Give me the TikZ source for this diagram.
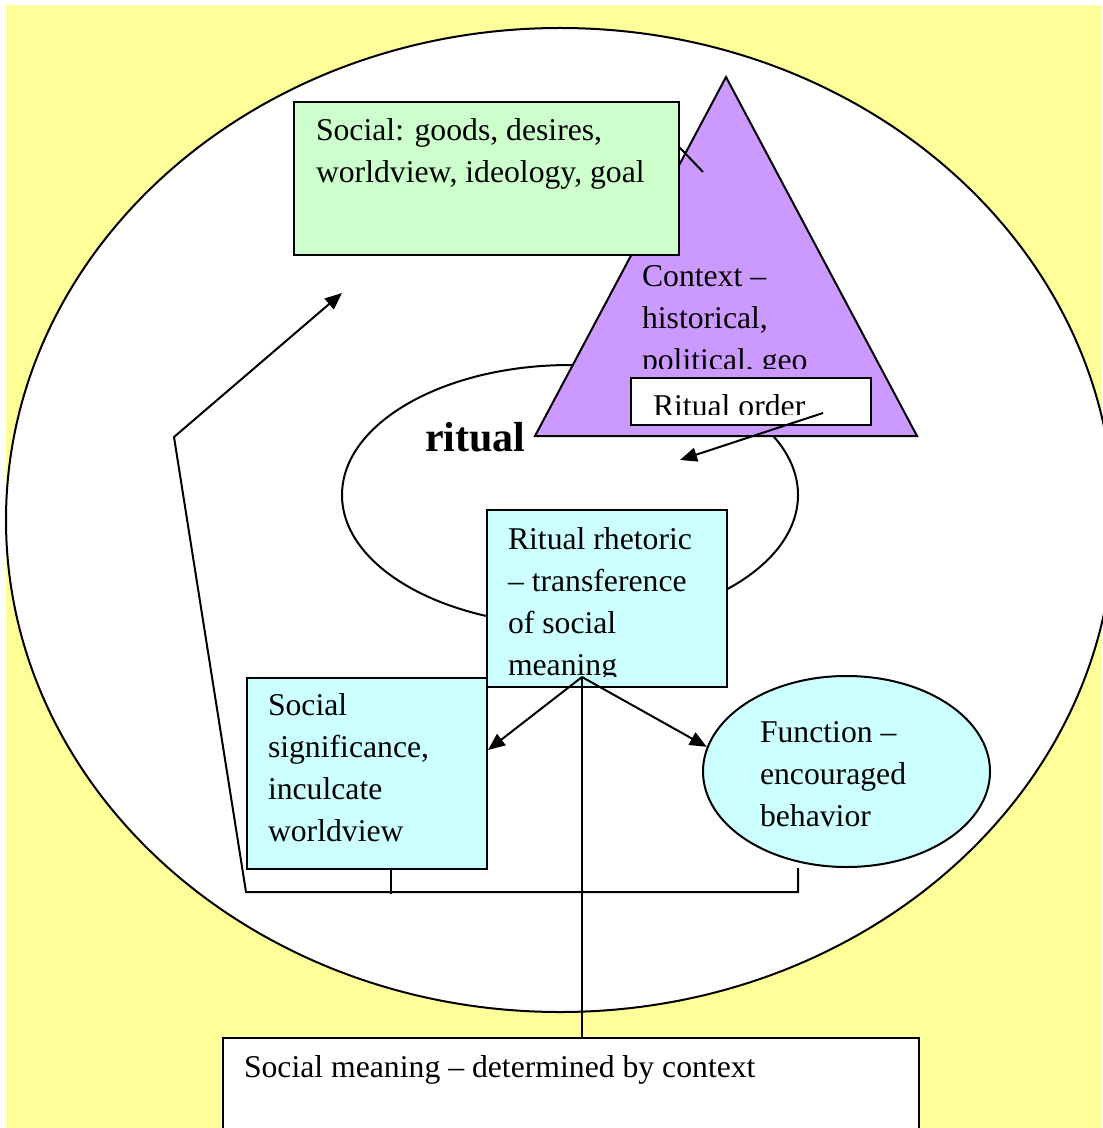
\documentclass[tikz,border=0pt]{standalone}
\usepackage{fontspec}
\setmainfont{Liberation Serif}
\usetikzlibrary{arrows.meta,shapes.geometric}
\definecolor{bgyellow}{HTML}{FFFF99}
\definecolor{boxgreen}{HTML}{CCFFCC}
\definecolor{boxcyan}{HTML}{CCFFFF}
\definecolor{ctxpurple}{HTML}{CC99FF}
\newcommand\bodyfont{\fontsize{15.85}{21}\selectfont}
\begin{document}
\begin{tikzpicture}[x=0.5pt, y=-0.5pt, line width=1pt,
		txt/.style={anchor=base west, inner sep=0pt, align=left, font=\bodyfont},
		box/.style={draw=black, anchor=north west, inner sep=0pt},
		arr/.style={-{Triangle[length=8.5pt,width=7pt]}}]
		\useasboundingbox (0,0) rectangle (1102,1128);
		\fill[white] (0,0) rectangle (1102,1128);
		\fill[bgyellow] (6,5) rectangle (1102,1128);
		% outer world and the ritual ellipse
		\filldraw[fill=white] (560,520) ellipse (554 and 492);
		\filldraw[fill=white] (570,495) ellipse (228 and 130);
		\node[txt, font=\fontsize{21}{25}\selectfont\bfseries] (ritual) at (424,451) {ritual};
		% context triangle (text anchored at its last line)
		\filldraw[fill=ctxpurple] (726,77) -- (535,436) -- (917,436) -- cycle;
		\begin{scope}
			\clip (600,250) rectangle (900,368.5);
			\node[txt] (context) at (641,371) {Context –\\historical,\\political, geo};
		\end{scope}
		\draw (660,127) -- (703,172);
		% boxes
		\node[box, fill=boxgreen, minimum width=192.5pt, minimum height=76.5pt] (goals) at (293,101) {};
		\node[txt] (goalstxt) at (315,183) {Social: goods, desires,\\worldview, ideology, goal};
		\node[box, fill=white, minimum width=120pt, minimum height=23.5pt] (order) at (630,377) {};
		\begin{scope}
			\clip (630,377) rectangle (870,414.5);
			\node[txt] (ordertxt) at (652,416) {Ritual order};
		\end{scope}
		\node[box, fill=boxcyan, minimum width=120pt, minimum height=88.5pt] (rhetoric) at (486,509) {};
		\begin{scope}
			\clip (486,509) rectangle (726,676);
			\node[txt] (rhetorictxt) at (507,675) {Ritual rhetoric\\– transference\\of social\\meaning};
		\end{scope}
		\node[box, fill=boxcyan, minimum width=120pt, minimum height=95.5pt] (sig) at (246,677) {};
		\node[txt] (sigtxt) at (267,841) {Social\\significance,\\inculcate\\worldview};
		\node[ellipse, draw=black, fill=boxcyan, inner sep=0pt, minimum width=143.5pt, minimum height=95.5pt] (func) at (846.5,771.5) {};
		\node[txt] (functxt) at (759,826) {Function –\\encouraged\\behavior};
		\node[box, fill=white, minimum width=348pt, minimum height=60pt] (meaning) at (222,1037) {};
		\node[txt] (meaningtxt) at (243,1077) {Social meaning – determined by context};
		% connectors
		\coordinate (fork) at (582,677);
		\coordinate (ordertip) at (680,460);
		\coordinate (bl) at (246,892);
		\coordinate (bend) at (174,437);
		\coordinate (goalstip) at (342,293);
		\draw[arr] ([xshift=36pt,yshift=-5.75pt]order.center) -- (ordertip);
		\draw[arr] (fork) -- (sig.11.5);
		\draw[arr] (fork) -- (func.170);
		\draw (fork) -- (fork |- meaning.north);
		\draw ([xshift=12pt]sig.south) -- ++(0,24);
		\draw[arr] ([xshift=-24.25pt]func.south) |- (bl) -- (bend) -- (goalstip);
	\end{tikzpicture}
\end{document}
